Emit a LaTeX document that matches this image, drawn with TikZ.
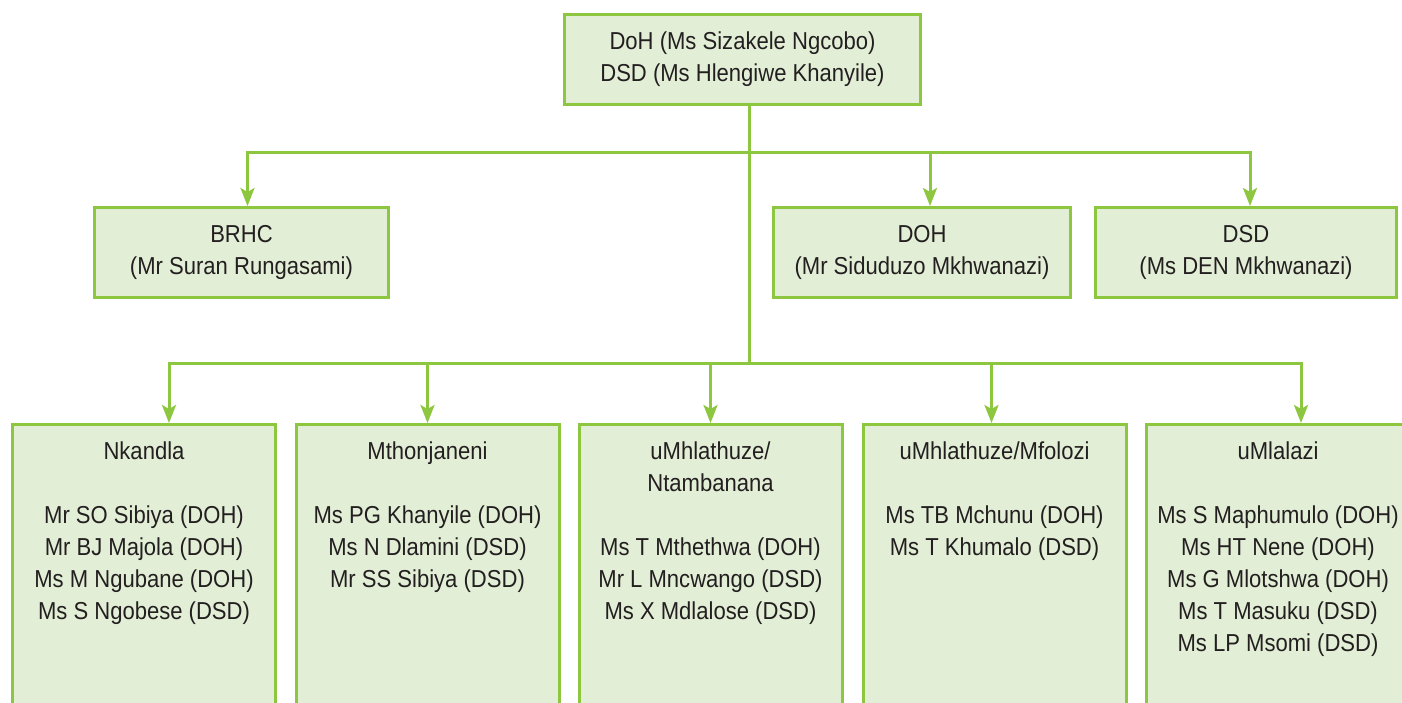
\documentclass[tikz,border=0pt]{standalone}
\usepackage{fontspec}
\setmainfont{Liberation Sans}[FakeStretch=0.9]
\usetikzlibrary{arrows.meta,positioning}
\definecolor{leafgreen}{HTML}{8DC63F}
\definecolor{palegreen}{HTML}{E2EFD6}
\definecolor{inkgray}{HTML}{231F20}
\begin{document}
\begin{tikzpicture}[x=1pt,y=-1pt,
  box/.style={draw=leafgreen,fill=palegreen,line width=3pt,text=inkgray,align=center,inner sep=0pt,
    font=\fontsize{24.5}{32}\selectfont},
  leafbox/.style={box,minimum width=263pt,minimum height=300pt},
  leaftext/.style={anchor=north,inner sep=0pt,align=center,text=inkgray,font=\fontsize{24.5}{32}\selectfont},
  link/.style={draw=leafgreen,line width=3pt},
  arrow/.style={link,-{Stealth[length=18pt,width=14pt,inset=4pt]}}]
\useasboundingbox (0,0) rectangle (1402,702);
\clip (0,0) rectangle (1402,702);
% head
\node[box,minimum width=356pt,minimum height=90pt] (head) at (742.5,59.5) {DoH (Ms Sizakele Ngcobo)\\DSD (Ms Hlengiwe Khanyile)};
\coordinate (upper) at (749,152);
\coordinate (lower) at (749,363);
% middle row
\node[box,minimum width=294pt,minimum height=90pt] (brhc) at (241.5,252.5) {BRHC\\(Mr Suran Rungasami)};
\node[box,minimum width=297pt,minimum height=90pt] (doh) at (922,252.5) {DOH\\(Mr Siduduzo Mkhwanazi)};
\node[box,minimum width=301pt,minimum height=90pt] (dsd) at (1246,252.5) {DSD\\(Ms DEN Mkhwanazi)};
% bottom row
\node[leafbox] (nkandla) at (144,574.5) {};
\node[leafbox] (mthon) at (427.5,574.5) {};
\node[leafbox] (ntamb) at (710.5,574.5) {};
\node[leafbox] (mfolozi) at (994.5,574.5) {};
\node[leafbox] (umlalazi) at (1278,574.5) {};
\node[leaftext,below=19pt of nkandla.north] (nkandlatext) {Nkandla\\[32pt]Mr SO Sibiya (DOH)\\Mr BJ Majola (DOH)\\Ms M Ngubane (DOH)\\Ms S Ngobese (DSD)};
\node[leaftext,below=19pt of mthon.north] (mthontext) {Mthonjaneni\\[32pt]Ms PG Khanyile (DOH)\\Ms N Dlamini (DSD)\\Mr SS Sibiya (DSD)};
\node[leaftext,below=19pt of ntamb.north] (ntambtext) {uMhlathuze/\\Ntambanana\\[32pt]Ms T Mthethwa (DOH)\\Mr L Mncwango (DSD)\\Ms X Mdlalose (DSD)};
\node[leaftext,below=19pt of mfolozi.north] (mfolozitext) {uMhlathuze/Mfolozi\\[32pt]Ms TB Mchunu (DOH)\\Ms T Khumalo (DSD)};
\node[leaftext,below=19pt of umlalazi.north] (umlalazitext) {uMlalazi\\[32pt]Ms S Maphumulo (DOH)\\Ms HT Nene (DOH)\\Ms G Mlotshwa (DOH)\\Ms T Masuku (DSD)\\Ms LP Msomi (DSD)};
% connectors
\draw[link] (head.south -| upper) -- (lower);
\foreach \n/\s in {brhc/6,doh/8,dsd/4}
  \draw[arrow] (upper) -| ([xshift=\s pt]\n.north);
\foreach \n/\s in {nkandla/25,mthon/0,ntamb/0,mfolozi/-3,umlalazi/23}
  \draw[arrow] (lower) -| ([xshift=\s pt]\n.north);
\end{tikzpicture}
\end{document}
